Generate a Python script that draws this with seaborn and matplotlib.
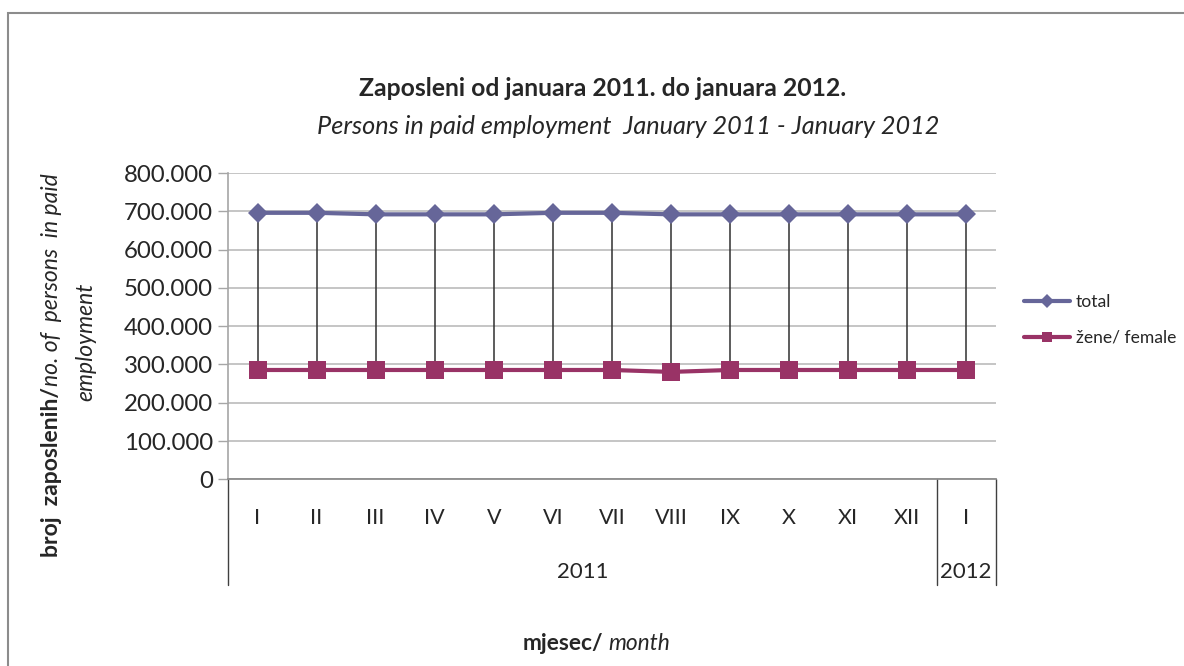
import matplotlib
matplotlib.use("Agg")
import matplotlib.pyplot as plt
import seaborn as sns
import numpy as np
from matplotlib.patches import Rectangle
from matplotlib.ticker import FuncFormatter, FixedLocator
import matplotlib.transforms as mtransforms

# ---------------- data ----------------
months = ["I", "II", "III", "IV", "V", "VI", "VII", "VIII", "IX", "X", "XI", "XII", "I"]
year_groups = ["2011", "2012"]
year_sizes = [12, 1]
total = [696000, 696000, 692000, 692000, 692000, 696000, 696000, 692000, 692000, 692000, 692000, 692000, 692000]
female = [285500, 285500, 285500, 285500, 285500, 285500, 285500, 280500, 285500, 285500, 285500, 285500, 285500]
series_names = ["total", "žene/ female"]
y_ticks = [0, 100000, 200000, 300000, 400000, 500000, 600000, 700000, 800000]

title = "Zaposleni od januara 2011. do januara 2012."
subtitle = "Persons in paid employment  January 2011 - January 2012"

# ---------------- style ----------------
sns.set_theme(style="white")
plt.rcParams["font.family"] = ["Lato", "DejaVu Sans"]
TXT = "#262626"
C_TOTAL = "#666699"
C_FEMALE = "#993366"

W, H = 1184, 666
fig = plt.figure(figsize=(W / 100, H / 100), dpi=100)
fig.patch.set_facecolor("white")

ax_l, ax_r, ax_t, ax_b = 228, 995.7, 173, 479.3
ax = fig.add_axes([ax_l / W, 1 - ax_b / H, (ax_r - ax_l) / W, (ax_b - ax_t) / H])

pos = np.arange(len(months))

# drop lines (high-low lines)
ax.vlines(pos, female, total, colors="#303030", lw=1.1, zorder=2)

sns.lineplot(x=pos, y=total, ax=ax, color=C_TOTAL, lw=3, marker="D", markersize=10.5,
             markeredgewidth=0, label=series_names[0], zorder=3)
sns.lineplot(x=pos, y=female, ax=ax, color=C_FEMALE, lw=3, marker="s", markersize=13,
             markeredgewidth=0, label=series_names[1], zorder=3)

handles, labels = ax.get_legend_handles_labels()
ax.get_legend().remove()

ax.set_xlim(-0.5, len(months) - 0.5)
ax.set_ylim(0, 800000)
ax.yaxis.set_major_locator(FixedLocator(y_ticks))
ax.yaxis.set_major_formatter(FuncFormatter(lambda v, p: "0" if v == 0 else f"{int(v):,}".replace(",", ".")))
ax.yaxis.grid(True, color="#c0c0c0", lw=1.3)
ax.xaxis.grid(False)
ax.set_axisbelow(True)
for s in ["top", "right"]:
    ax.spines[s].set_visible(False)
ax.spines["left"].set_color("#a6a6a6")
ax.spines["left"].set_linewidth(1.2)
ax.spines["bottom"].set_color("#8c8c8c")
ax.spines["bottom"].set_linewidth(1.3)
ax.tick_params(axis="y", left=True, length=7, width=1, color="#a6a6a6", direction="out",
               labelsize=17.3, pad=4, labelcolor=TXT)
ax.set_xticks(pos)
ax.set_xticklabels(months)
ax.tick_params(axis="x", bottom=False, length=0, labelsize=15.5, pad=21, labelcolor=TXT)
ax.set_xlabel("")
ax.set_ylabel("")

# multi-level category boxes
trans = mtransforms.blended_transform_factory(ax.transData, ax.transAxes)
box_bottom = -(585 - ax_b) / (ax_b - ax_t)
bounds = [-0.5]
for n in year_sizes:
    bounds.append(bounds[-1] + n)
for b in bounds:
    ax.plot([b, b], [0, box_bottom], transform=trans, color="#404040", lw=1, clip_on=False)
year_y = -(572 - ax_b) / (ax_b - ax_t)
for i, yr in enumerate(year_groups):
    ax.text((bounds[i] + bounds[i + 1]) / 2, year_y, yr, transform=trans, ha="center", va="center",
            fontsize=16, color=TXT)

# titles
fig.text(603 / W, 1 - 88 / H, title, ha="center", va="center", fontsize=17.8, fontweight="bold", color=TXT)
fig.text(628 / W, 1 - 126 / H, subtitle, ha="center", va="center", fontsize=18.2, fontstyle="italic", color=TXT)

# legend
leg = fig.legend(handles, labels, loc="center left", bbox_to_anchor=(1010 / W, 1 - 320 / H),
                 frameon=False, fontsize=12.6, handlelength=2.6, labelspacing=1.1, handletextpad=0.35,
                 borderpad=0.3, labelcolor=TXT)
for h in leg.legend_handles:
    h.set_markersize(7.5)

# figure border
fig.add_artist(Rectangle((7.5 / W, -0.1), 1.2, (1 - 12.5 / H) + 0.1, transform=fig.transFigure,
                         fill=False, edgecolor="#8c8c8c", lw=1.5))

# mixed-style axis labels
fig.canvas.draw()
r = fig.canvas.get_renderer()

# x label
t1 = fig.text(0, 1 - 643 / H, "mjesec/", ha="left", va="center", fontsize=16.4, fontweight="bold", color=TXT)
t2 = fig.text(0, 1 - 643 / H, "month", ha="left", va="center", fontsize=16.4, fontstyle="italic", color=TXT)
w1 = t1.get_window_extent(r).width
w2 = t2.get_window_extent(r).width
gap = 5
x0 = 596 - (w1 + gap + w2) / 2
t1.set_x(x0 / W)
t2.set_x((x0 + w1 + gap) / W)

# y label line 1
ya = fig.text(52 / W, 1 - 557 / H, "broj  zaposlenih/", rotation=90, rotation_mode="anchor",
              ha="left", va="center", fontsize=16.5, fontweight="bold", color=TXT)
h1 = ya.get_window_extent(r).height
yb = fig.text(52 / W, (H - 557 + h1 + 1) / H, "no. of  persons  in paid", rotation=90, rotation_mode="anchor",
              ha="left", va="center", fontsize=16.5, fontstyle="italic", color=TXT)
fig.text(86 / W, 1 - 342 / H, "employment", rotation=90, rotation_mode="anchor",
         ha="center", va="center", fontsize=16.5, fontstyle="italic", color=TXT)

fig.savefig("out.png", dpi=100)
